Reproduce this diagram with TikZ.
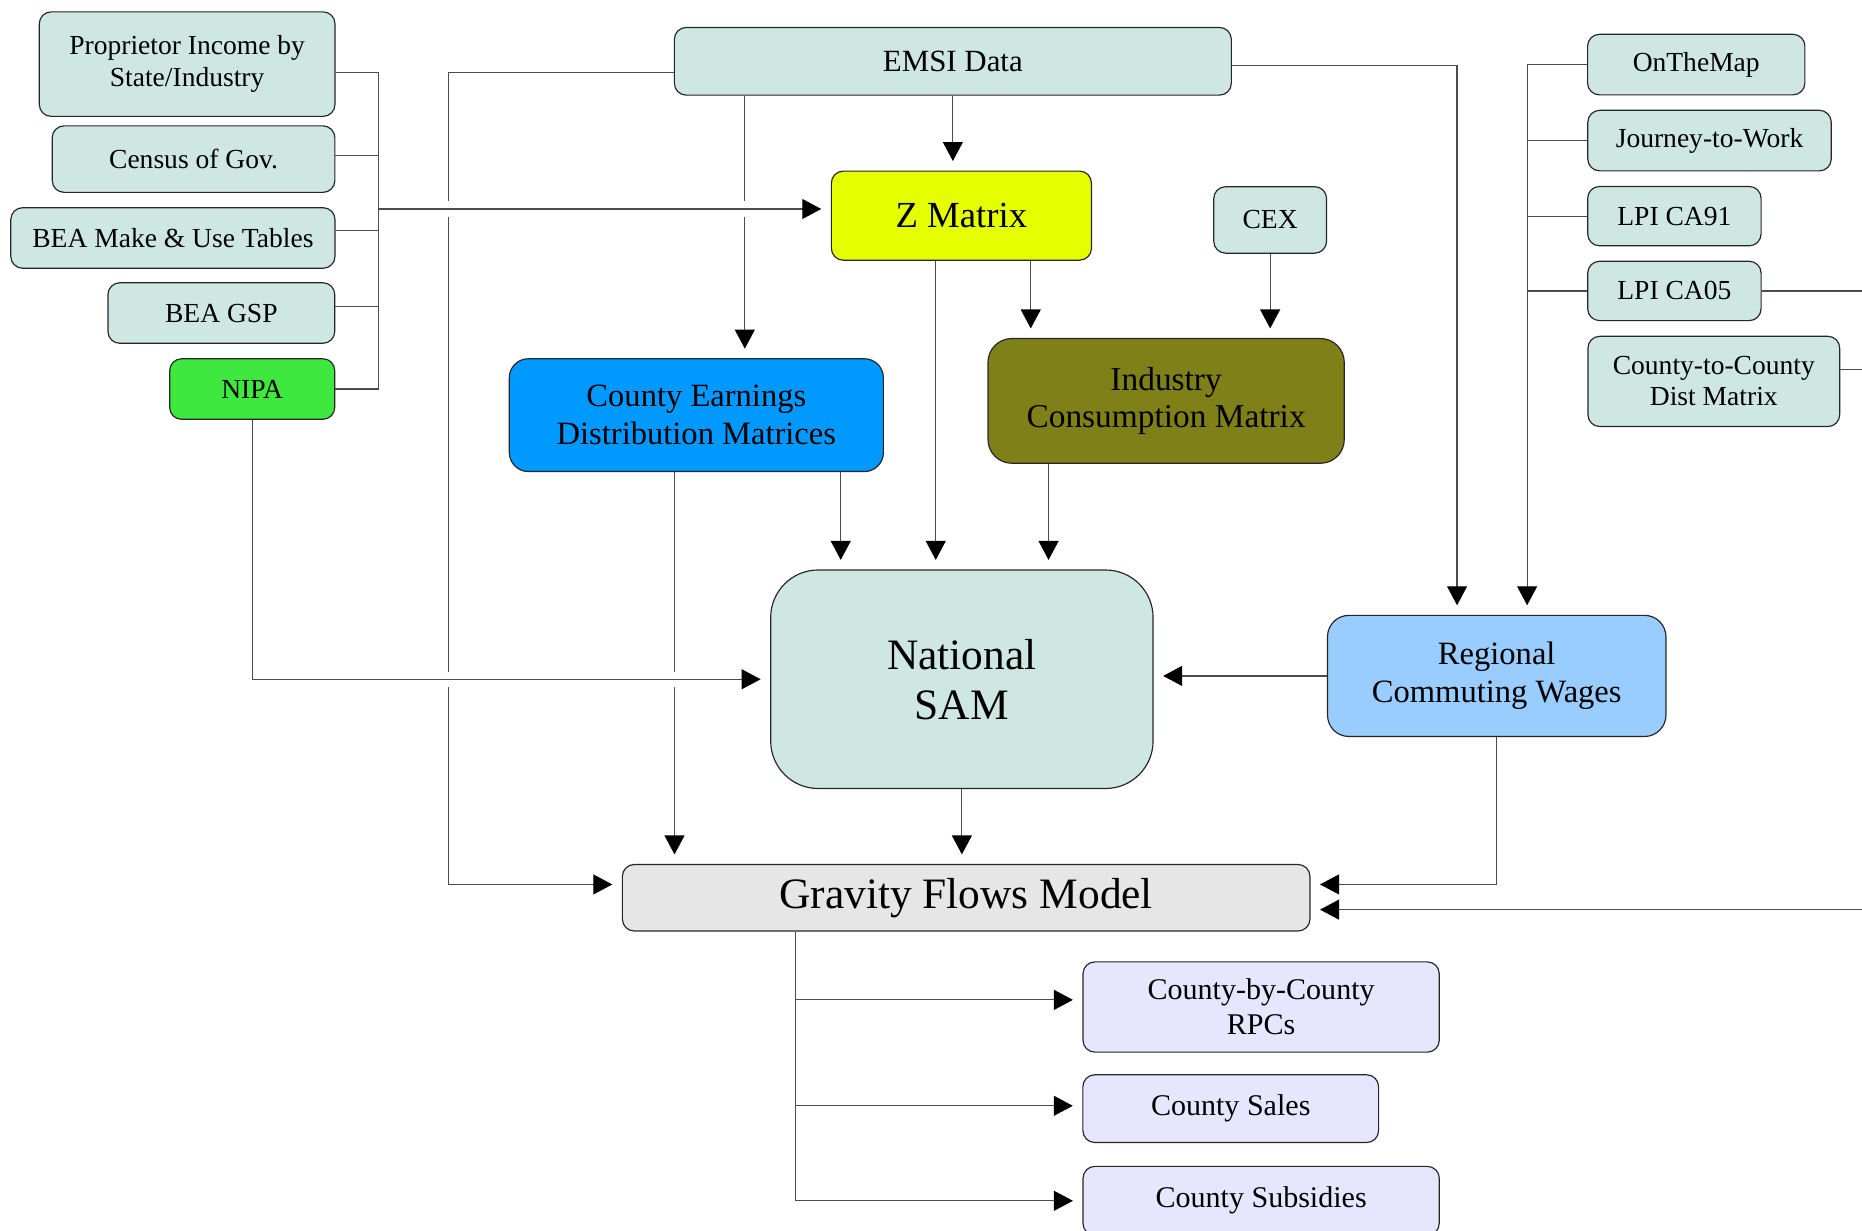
\documentclass[tikz,border=0pt]{standalone}
\usepackage{fontspec}
\setmainfont{Liberation Serif}
\usetikzlibrary{arrows.meta}
\definecolor{srcfill}{RGB}{207,231,227}
\definecolor{nipagreen}{RGB}{62,232,62}
\definecolor{zyellow}{RGB}{229,255,0}
\definecolor{earnblue}{RGB}{0,153,255}
\definecolor{consolive}{RGB}{128,128,25}
\definecolor{wageblue}{RGB}{153,204,255}
\definecolor{gravgray}{RGB}{230,230,230}
\definecolor{outlav}{RGB}{230,230,255}
\tikzstyle{box}=[draw=black!85, line width=0.7pt, fill=srcfill, rounded corners=0.25cm, align=center, inner sep=2pt, font=\fontsize{16.5}{19.5}\selectfont]
\tikzstyle{midtext}=[font=\fontsize{19.5}{23}\selectfont]
\tikzstyle{bigtext}=[font=\fontsize{26}{30}\selectfont]
\tikzstyle{link}=[draw=black!70, line width=0.7pt]
\tikzstyle{flow}=[link, -{Triangle[length=0.4cm,width=0.42cm,color=black]}, shorten >=0.2cm]
\tikzstyle{halo}=[draw=white, line width=9pt] % gap where a line jumps over another
\begin{document}
\begin{tikzpicture}
\useasboundingbox (0,0) rectangle (39.2,-25.9);

% data sources on the left
\node[box, minimum width=6.225cm, minimum height=2.2cm] (prop) at (3.94,-1.35) {Proprietor Income by\\State/Industry};
\node[box, minimum width=5.95cm, minimum height=1.4cm] (census) at (4.075,-3.35) {Census of Gov.};
\node[box, minimum width=6.825cm, minimum height=1.275cm] (makeuse) at (3.64,-5.01) {BEA Make \& Use Tables};
\node[box, minimum width=4.775cm, minimum height=1.275cm] (gsp) at (4.66,-6.59) {BEA GSP};
\node[box, fill=nipagreen, minimum width=3.475cm, minimum height=1.275cm] (nipa) at (5.31,-8.19) {NIPA};

% middle column
\node[box, font=\fontsize{18.5}{22}\selectfont, minimum width=11.725cm, minimum height=1.425cm] (emsi) at (20.06,-1.29) {EMSI Data};
\node[box, fill=zyellow, font=\fontsize{22}{26}\selectfont, minimum width=5.475cm, minimum height=1.875cm] (zmat) at (20.24,-4.54) {Z Matrix};
\node[box, minimum width=2.375cm, minimum height=1.4cm] (cex) at (26.74,-4.63) {CEX};
\node[box, midtext, fill=earnblue, rounded corners=0.4cm, minimum width=7.875cm, minimum height=2.375cm] (earn) at (14.66,-8.74) {County Earnings\\Distribution Matrices};
\node[box, font=\fontsize{20}{22.5}\selectfont, fill=consolive, rounded corners=0.5cm, minimum width=7.5cm, minimum height=2.625cm] (cons) at (24.55,-8.44) {Industry\\Consumption Matrix};
\node[box, bigtext, rounded corners=1cm, minimum width=8.05cm, minimum height=4.6cm] (sam) at (20.25,-14.3) {National\\SAM};
\node[box, bigtext, fill=gravgray, minimum width=14.475cm, minimum height=1.4cm] (grav) at (20.34,-18.9) {Gravity Flows Model};

% commuting sources on the right
\node[box, minimum width=4.575cm, minimum height=1.275cm] (otm) at (35.71,-1.36) {OnTheMap};
\node[box, minimum width=5.125cm, minimum height=1.275cm] (jtw) at (35.99,-2.96) {Journey-to-Work};
\node[box, minimum width=3.65cm, minimum height=1.25cm] (ca91) at (35.25,-4.55) {LPI CA91};
\node[box, minimum width=3.65cm, minimum height=1.25cm] (ca05) at (35.25,-6.125) {LPI CA05};
\node[box, font=\fontsize{16.5}{18.5}\selectfont, minimum width=5.3cm, minimum height=1.9cm] (dist) at (36.08,-8.03) {County-to-County\\Dist Matrix};
\node[box, midtext, fill=wageblue, rounded corners=0.45cm, minimum width=7.125cm, minimum height=2.55cm] (wages) at (31.51,-14.23) {Regional\\Commuting Wages};

% outputs
\node[box, fill=outlav, font=\fontsize{18}{21}\selectfont, minimum width=7.5cm, minimum height=1.9cm] (rpc) at (26.55,-21.2) {County-by-County\\RPCs};
\node[box, fill=outlav, font=\fontsize{18}{21}\selectfont, minimum width=6.225cm, minimum height=1.425cm] (sales) at (25.91,-23.34) {County Sales};
\node[box, fill=outlav, font=\fontsize{18}{21}\selectfont, minimum width=7.5cm, minimum height=1.45cm] (subs) at (26.55,-25.28) {County Subsidies};

% line columns
\coordinate (lbx) at (7.975,-4.4);
\coordinate (ecol) at (9.45,-10);
\coordinate (earnl) at (14.2,0);
\coordinate (ecol2) at (15.68,0);
\coordinate (gcol) at (16.75,0);
\coordinate (earnr) at (17.7,0);
\coordinate (zl) at (19.7,0);
\coordinate (zr) at (21.7,0);
\coordinate (consl) at (22.075,0);
\coordinate (eright) at (30.675,0);
\coordinate (rbus) at (32.15,-1.36);
\coordinate (redge) at (39.2,-19.15);
\coordinate (dstub) at ([yshift=0.25cm]dist.east);

% left bus
\foreach \n/\s in {prop/-0.18, census/0.08, makeuse/0.16, gsp/0.14, nipa/0}
  \draw[link] ([yshift=\s cm]\n.east) -| (lbx);

% vertical flows
\draw[flow] ([yshift=-0.24cm]emsi.west) -| (ecol) |- ([yshift=0.28cm]grav.west);
\draw[flow] (ecol2 |- emsi.south) -- (ecol2 |- earn.north);
\draw[flow] (emsi.south) -- (emsi.south |- zmat.north);
\draw[flow] (zl |- zmat.south) -- (zl |- sam.north);
\draw[flow] (zr |- zmat.south) -- (zr |- cons.north);
\draw[flow] (cex.south) -- (cex.south |- cons.north);
\draw[flow] (earnr |- earn.south) -- (earnr |- sam.north);
\draw[flow] (earnl |- earn.south) -- (earnl |- grav.north);
\draw[flow] (consl |- cons.south) -- (consl |- sam.north);
\draw[flow] (sam.south) -- (sam.south |- grav.north);

% jumps, then the lines across
\draw[halo] (lbx) ++(0.6,0) -- ++(8.5,0);
\draw[halo] (nipa.south |- sam.west) ++(0.6,0) -- ++(9,0);
\draw[flow] (lbx) -- (lbx -| zmat.west);
\draw[flow] (nipa.south) |- (sam.west);

% right side
\draw[flow] ([yshift=-0.09cm]emsi.east) -| (eright |- wages.north);
\foreach \n in {otm,jtw,ca91,ca05}
  \draw[link] (\n.west) -| (rbus);
\draw[flow] (rbus) -- (rbus |- wages.north);
\draw[link] (ca05.east) -- (ca05.east -| redge);
\draw[link] (dstub) -- (dstub -| redge);
\draw[flow] (wages.west) -- (wages.west -| sam.east);
\draw[flow] (wages.south) |- ([yshift=0.28cm]grav.east);
\draw[flow] (redge) -- (redge -| grav.east);

% outputs of the gravity model
\draw[link] (gcol |- grav.south) -- (gcol |- subs.west);
\foreach \n/\s in {rpc/0.15, sales/0.06, subs/0} {
  \coordinate (tgt) at ([yshift=\s cm]\n.west);
  \draw[flow] (gcol |- tgt) -- (tgt);
}
\end{tikzpicture}
\end{document}
